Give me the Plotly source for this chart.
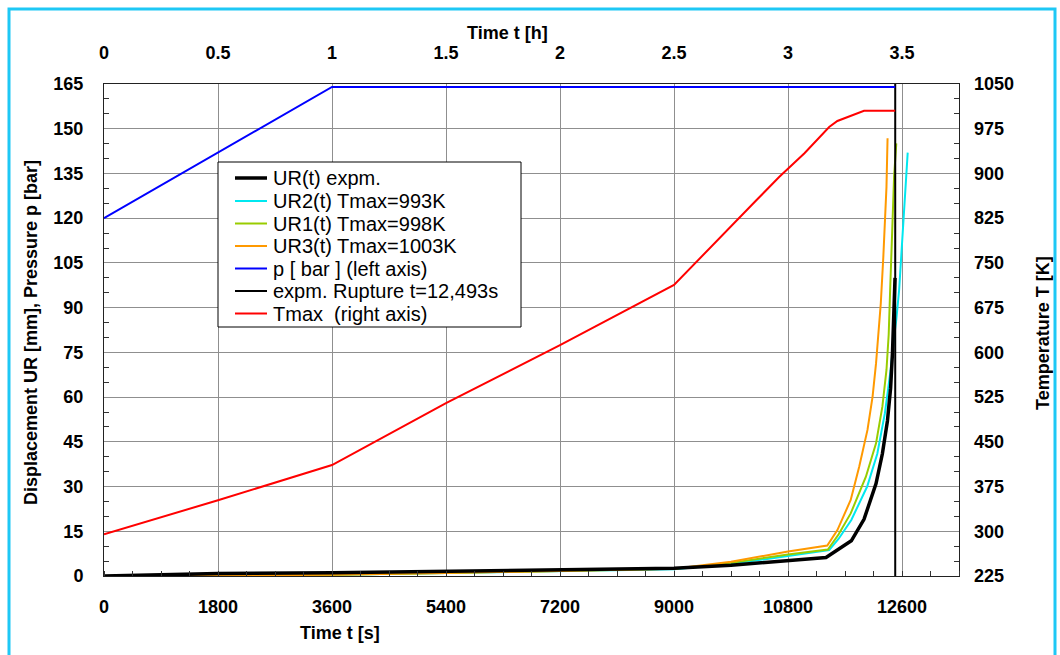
import plotly.graph_objects as go

# ---------------- data ----------------
t_exp = [0, 600, 1800, 3600, 5400, 7200, 9000, 9900, 10800, 11400, 11800, 12000, 12190, 12290, 12370, 12420, 12450, 12470, 12490]
ur_exp = [0, 0.3, 0.8, 1.1, 1.6, 2.2, 2.6, 3.6, 5.0, 6.2, 11.8, 19.0, 31.0, 41.0, 52.0, 63.0, 75.0, 86.0, 100.0]

t_ur2 = [0, 1800, 3600, 5400, 7200, 9000, 9900, 10800, 11450, 11600, 11800, 12050, 12210, 12330, 12420, 12475, 12510, 12555, 12605, 12650, 12690]
ur2 = [0, 0.2, 0.4, 1.0, 1.7, 2.3, 4.0, 6.6, 8.7, 12.5, 18.8, 30.0, 41.0, 54.6, 69.0, 80.0, 86.0, 96.0, 112.7, 129.4, 142.0]

t_ur1 = [0, 1800, 3600, 5400, 7200, 9000, 9900, 10800, 11430, 11600, 11790, 12030, 12190, 12290, 12355, 12390, 12413, 12450, 12475, 12510]
ur1 = [0, 0.2, 0.4, 1.0, 1.7, 2.4, 4.4, 7.2, 8.9, 14.0, 21.0, 33.3, 44.5, 56.8, 69.1, 81.0, 96.0, 116.0, 133.9, 145.1]

t_ur3 = [0, 1800, 3600, 5400, 7200, 9000, 9900, 10800, 11420, 11580, 11790, 11925, 12055, 12135, 12190, 12230, 12265, 12305, 12335, 12355, 12372]
ur3 = [0, 0.2, 0.4, 1.0, 1.7, 2.4, 4.8, 8.2, 10.2, 15.4, 25.5, 36.7, 49.0, 60.1, 71.3, 82.5, 91.4, 107.0, 120.5, 130.5, 146.8]

t_p = [0, 3600, 12493]
p_bar = [120, 164, 164]

rupture_t = 12493
rupture_y = [0, 165]

t_T = [0, 1800, 3600, 5400, 7200, 9000, 10300, 10660, 11060, 11450, 11580, 11800, 12000, 12493]
T_max = [295, 352, 411, 515, 612, 713, 855, 894, 934, 978, 988, 997, 1005, 1005]

x_ticks = [0, 1800, 3600, 5400, 7200, 9000, 10800, 12600]
h_ticks = [0, 0.5, 1, 1.5, 2, 2.5, 3, 3.5]

labels = ["UR(t) expm.", "UR2(t) Tmax=993K", "UR1(t) Tmax=998K", "UR3(t) Tmax=1003K",
          "p [ bar ] (left axis)", "expm. Rupture t=12,493s", "Tmax\u00a0 (right axis)"]
colors = ["black", "#00E8F0", "#99CC00", "#FF9900", "#0000FF", "black", "#FF0000"]
widths = [3.5, 2, 2, 2, 2, 2, 2]

# ---------------- figure ----------------
FONT = "Liberation Sans, Arial, sans-serif"
W, H = 1060, 655
L, R, T, B = 104, 101, 84, 79
pw, ph = W - L - R, H - T - B

def px(x):
    return (x - L) / pw

def py(y):
    return (H - B - y) / ph

fig = go.Figure()

fig.add_trace(go.Scatter(x=t_ur2, y=ur2, mode="lines", name=labels[1],
                         line=dict(color=colors[1], width=widths[1])))
fig.add_trace(go.Scatter(x=t_ur1, y=ur1, mode="lines", name=labels[2],
                         line=dict(color=colors[2], width=widths[2])))
fig.add_trace(go.Scatter(x=t_ur3, y=ur3, mode="lines", name=labels[3],
                         line=dict(color=colors[3], width=widths[3])))
fig.add_trace(go.Scatter(x=t_exp, y=ur_exp, mode="lines", name=labels[0],
                         line=dict(color=colors[0], width=widths[0])))
fig.add_trace(go.Scatter(x=[rupture_t, rupture_t], y=rupture_y, mode="lines", name=labels[5],
                         line=dict(color=colors[5], width=widths[5])))
fig.add_trace(go.Scatter(x=[t / 3600 for t in t_p], y=p_bar, mode="lines", name=labels[4],
                         xaxis="x2", yaxis="y", line=dict(color=colors[4], width=widths[4])))
fig.add_trace(go.Scatter(x=t_T, y=T_max, mode="lines", name=labels[6],
                         xaxis="x", yaxis="y2", line=dict(color=colors[6], width=widths[6])))

tickfont = dict(family=FONT, size=18, color="black", weight="bold")
grid = "#8f8f8f"

fig.update_layout(
    width=W, height=H, autosize=False,
    margin=dict(l=L, r=R, t=T, b=B, pad=0),
    paper_bgcolor="white", plot_bgcolor="white",
    font=dict(family=FONT, color="black"),
    showlegend=False,
    xaxis=dict(range=[0, 13500], tickvals=x_ticks, ticktext=[str(v) for v in x_ticks],
               showgrid=True, gridcolor=grid, gridwidth=1,
               zeroline=False, showline=True, linecolor="#222", linewidth=1, mirror=True,
               ticks="", tickfont=tickfont, ticklabelstandoff=14,
               minor=dict(dtick=450, ticks="inside", ticklen=5, tickcolor="#333", showgrid=False)),
    xaxis2=dict(range=[0, 3.75], tickvals=h_ticks, ticktext=[f"{v:g}" for v in h_ticks],
                overlaying="x", side="top", anchor="y",
                showgrid=False, zeroline=False, showline=False, ticks="",
                tickfont=tickfont, ticklabelstandoff=20),
    yaxis=dict(range=[0, 165], dtick=15, showgrid=True, gridcolor=grid, gridwidth=1,
               zeroline=False, showline=True, linecolor="#222", linewidth=1, mirror=True,
               ticks="", tickfont=tickfont, ticklabelstandoff=16,
               minor=dict(dtick=5, ticks="inside", ticklen=5, tickcolor="#333", showgrid=False)),
    yaxis2=dict(range=[225, 1050], dtick=75, overlaying="y", side="right", anchor="x",
                showgrid=False, zeroline=False, showline=False, ticks="",
                tickfont=tickfont, ticklabelstandoff=14,
                minor=dict(dtick=25, ticks="inside", ticklen=5, tickcolor="#333", showgrid=False)),
)

# ---------------- legend box (drawn as layout items) ----------------
leg_x0, leg_x1, leg_y0, leg_y1 = 218, 521, 162, 327
row_y = [178, 201, 223.5, 246, 268.5, 291, 313.5]
order = [0, 1, 2, 3, 4, 5, 6]
fig.add_shape(type="rect", xref="paper", yref="paper",
              x0=px(leg_x0), x1=px(leg_x1), y0=py(leg_y1), y1=py(leg_y0),
              line=dict(color="black", width=1), fillcolor="white", layer="above")
for i, k in enumerate(order):
    fig.add_shape(type="line", xref="paper", yref="paper",
                  x0=px(235), x1=px(267), y0=py(row_y[i]), y1=py(row_y[i]),
                  line=dict(color=colors[k], width=widths[k]), layer="above")
    fig.add_annotation(text=labels[k], xref="paper", yref="paper", x=px(271), y=py(row_y[i]),
                       showarrow=False, xanchor="left", yanchor="middle",
                       font=dict(family=FONT, size=20, color="black"))

title_font = dict(family=FONT, size=18, color="black", weight="bold")
fig.add_annotation(text="Time t [s]", xref="paper", yref="paper", x=px(340), y=py(633),
                   showarrow=False, font=title_font, xanchor="center", yanchor="middle")
fig.add_annotation(text="Time t [h]", xref="paper", yref="paper", x=px(507), y=py(33),
                   showarrow=False, font=title_font, xanchor="center", yanchor="middle")
fig.add_annotation(text="Displacement UR [mm], Pressure p [bar]", xref="paper", yref="paper",
                   x=px(31), y=py(333), textangle=-90, showarrow=False, font=title_font,
                   xanchor="center", yanchor="middle")
fig.add_annotation(text="Temperature T [K]", xref="paper", yref="paper",
                   x=px(1043), y=py(333), textangle=-90, showarrow=False, font=title_font,
                   xanchor="center", yanchor="middle")

fig.add_shape(type="rect", xref="paper", yref="paper",
              x0=px(9), x1=px(1055), y0=py(662), y1=py(9),
              line=dict(color="#1EC8F5", width=3), layer="below")

fig.write_html("out.html")
